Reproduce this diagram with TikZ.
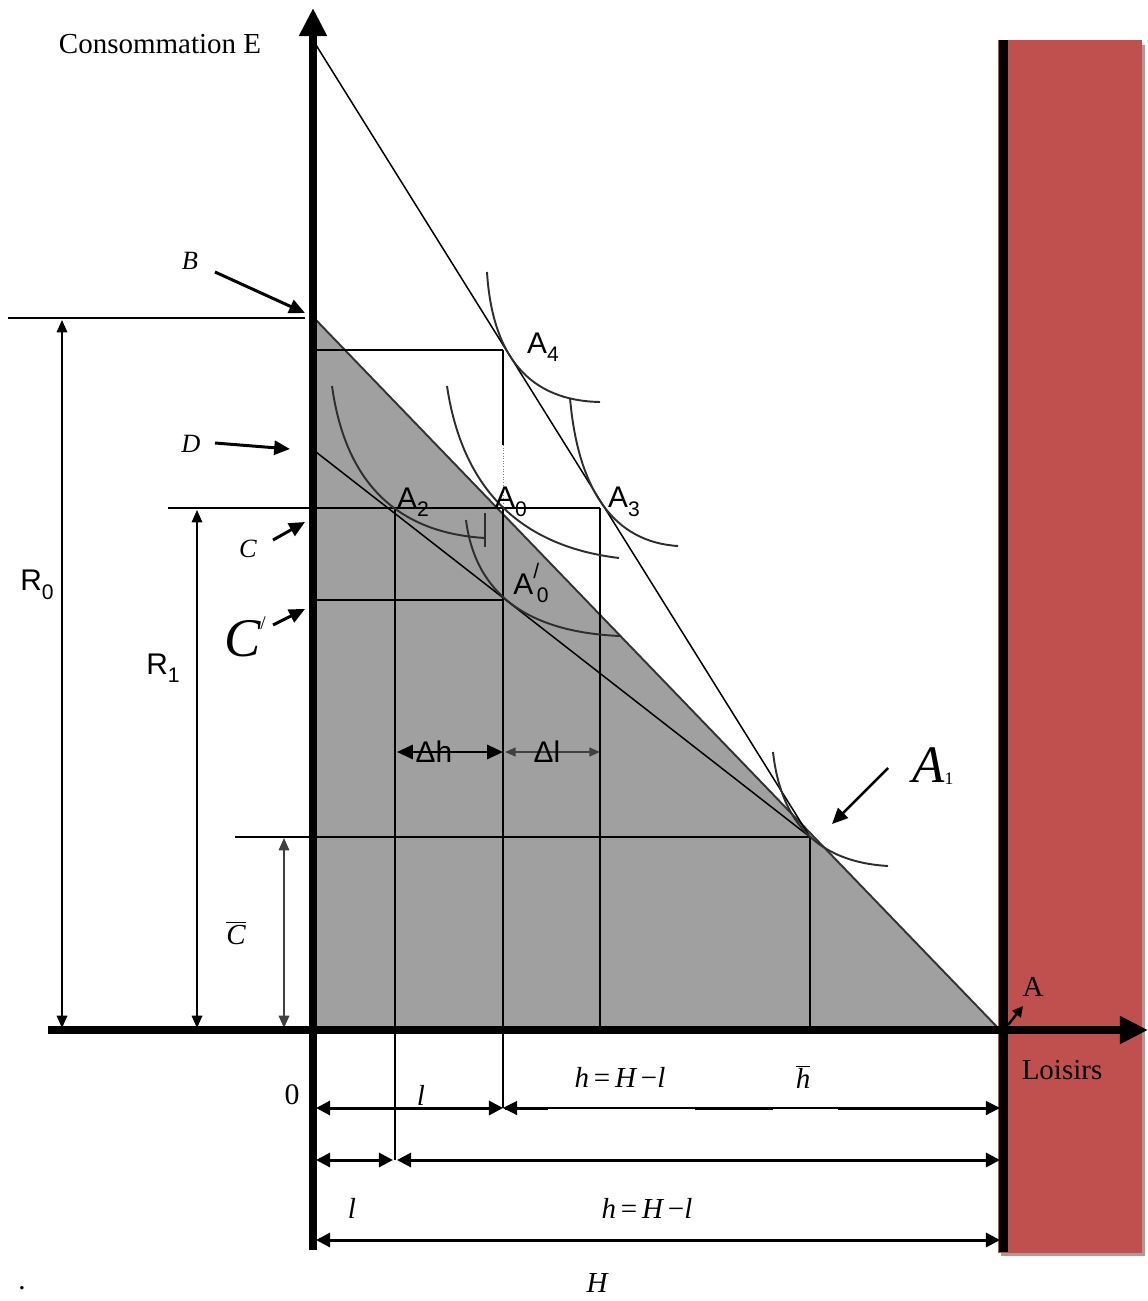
\documentclass[tikz,border=0pt]{standalone}
\usepackage{fontspec}
\setmainfont{Liberation Serif}
\newfontfamily\sansf{Liberation Sans}
\usetikzlibrary{arrows.meta}
\definecolor{redbar}{HTML}{C0504D}
\definecolor{grayfill}{HTML}{A0A0A0}
\definecolor{shadowc}{HTML}{B89696}
\newcommand\mysub[1]{\raisebox{-0.28em}{\fontsize{12}{13}\selectfont #1}}
\begin{document}
\begin{tikzpicture}[x=0.02cm,y=-0.02cm,
  thinl/.style={line width=0.85pt},
  icurve/.style={line width=1.1pt, draw=black!82},
  dimL/.style={line width=0.9pt,{Triangle[length=7pt,width=6pt]}-{Triangle[length=7pt,width=6pt]}},
  dimB/.style={line width=1.7pt,{Triangle[length=8pt,width=8pt]}-{Triangle[length=8pt,width=8pt]}},
  lblarrow/.style={line width=1.7pt,-{Triangle[length=9pt,width=8pt]}},
  serif/.style={font=\fontsize{16.5}{18}\selectfont, inner sep=0pt},
  ital/.style={font=\fontsize{16.5}{18}\selectfont\itshape, inner sep=0pt},
  sanslbl/.style={font=\sansf\fontsize{17}{19}\selectfont, inner sep=0pt},
]
\useasboundingbox (0,0) rectangle (1148,1301);
% key points
\coordinate (top) at (313,8);
\coordinate (axbot) at (313,1250);
\coordinate (hx0) at (48,1030);
\coordinate (hx1) at (1148,1030);
\coordinate (B) at (316,320);
\coordinate (Hend) at (1000,1030);
\coordinate (O) at (316,1030);
\coordinate (E) at (316,45);
\coordinate (D) at (316,452);
\coordinate (A1) at (810,837);
\coordinate (A4) at (503,350);
\coordinate (A2) at (395,508);
\coordinate (A0) at (503,508);
\coordinate (A3) at (600,508);
\coordinate (A0p) at (503,600);

% red bar with shadow
\fill[shadowc] (1001,45) rectangle (1145,1256);
\fill[redbar] (998,40) rectangle (1142,1253);

% gray triangle
\fill[grayfill] (B) -- (Hend) -- (O) -- cycle;
\draw[line width=1.1pt, draw=black!80] (B) -- (Hend);

% budget lines
\draw[thinl] (E) -- (A1);
\draw[thinl] (D) -- (A1);

% guide lines
\coordinate (r0l) at (8,318); \coordinate (r0r) at (305,318);
\draw[thinl] (r0l) -- (r0r);
\coordinate (h350) at (316,350);
\draw[thinl] (h350) -- (A4);
\coordinate (v445) at (503,445);
\draw[thinl] (A4) -- (v445);
\draw[line width=0.5pt, densely dotted, draw=black!50] (v445) -- (A0);
\coordinate (r1l) at (168,508);
\draw[thinl] (r1l) -- (A3);
\coordinate (h600) at (316,600);
\draw[thinl] (h600) -- (A0p);
\coordinate (cbl) at (235,837);
\draw[thinl] (cbl) -- (A1);
\coordinate (v395b) at (395,1160);
\coordinate (v503b) at (503,1108);
\coordinate (v600b) at (600,1030);
\coordinate (v810b) at (810,1030);
\draw[thinl] (A2) -- (v395b);
\draw[thinl] (A0) -- (v503b);
\draw[thinl] (A3) -- (v600b);
\draw[thinl] (A1) -- (v810b);

% indifference curves
\draw[icurve] (487,272) .. controls (492.3,357.3) and (530,400.7) .. (600,402);
\draw[icurve] (570,398) .. controls (578,490.7) and (614,542) .. (678,546);
\draw[icurve] (447,386) .. controls (462.3,488.7) and (519.7,546) .. (619,558);
\draw[icurve] (332,386) .. controls (345.3,482) and (396.3,532.7) .. (485,538);
\coordinate (tk1) at (485,513); \coordinate (tk2) at (485,547);
\draw[icurve] (tk1) -- (tk2);
\draw[icurve] (466,520) .. controls (475.3,593.3) and (526.7,632) .. (620,636);
\draw[icurve] (773,752) .. controls (781,824) and (819.3,862) .. (888,866);

% left dimension arrows
\coordinate (R0t) at (62,320); \coordinate (R0b) at (62,1028);
\draw[dimL] (R0t) -- (R0b);
\coordinate (R1t) at (197,510); \coordinate (R1b) at (197,1028);
\draw[dimL] (R1t) -- (R1b);
\coordinate (Cbt) at (284,838); \coordinate (Cbb) at (284,1028);
\draw[dimL, draw=black!75] (Cbt) -- (Cbb);

% delta arrows
\coordinate (dh1) at (397,752); \coordinate (dh2) at (503,752); \coordinate (dl2) at (600,752);
\draw[line width=1.5pt,{Triangle[length=9pt,width=8pt]}-{Triangle[length=9pt,width=8pt]}] (dh1) -- (dh2);
\draw[line width=0.9pt, draw=black!75,{Triangle[length=6pt,width=5pt]}-{Triangle[length=6pt,width=5pt]}] (505,752) -- (dl2);

% bottom dimension arrows
\coordinate (b1a) at (316,1108); \coordinate (b1c) at (1000,1108);
\draw[dimB] (b1a) -- (v503b);
\draw[line width=0.6pt,{Triangle[length=8pt,width=8pt]}-{Triangle[length=8pt,width=8pt]}] (v503b) -- (b1c);
\draw[line width=1.7pt] (505,1108) -- (548,1108);
\draw[line width=1.7pt] (695,1108) -- (773,1108);
\draw[line width=1.7pt] (838,1108) -- (990,1108);
\coordinate (b2a) at (316,1160); \coordinate (b2m) at (393,1160); \coordinate (b2n) at (397,1160); \coordinate (b2c) at (1000,1160);
\draw[dimB] (b2a) -- (b2m);
\draw[dimB] (b2n) -- (b2c);
\coordinate (b3a) at (316,1240); \coordinate (b3c) at (1000,1240);
\draw[dimB] (b3a) -- (b3c);

% axes
\draw[line width=4.2pt, -{Triangle[length=16pt,width=15pt]}] (axbot) -- (top);
\draw[line width=4.2pt, -{Triangle[length=16pt,width=15pt]}] (hx0) -- (hx1);
\coordinate (rb1) at (1003.5,40); \coordinate (rb2) at (1003.5,1252);
\draw[line width=5pt] (rb1) -- (rb2);

% labels
\node[serif] (cons) at (160,44) {Consommation E};
\node[ital, font=\fontsize{15}{17}\selectfont\itshape] (Blab) at (190,261) {B};
\node[ital, font=\fontsize{15}{17}\selectfont\itshape] (Dlab) at (191,444) {D};
\node[ital, font=\fontsize{15}{17}\selectfont\itshape] (Clab) at (248,549) {C};
\node[inner sep=0pt] (Cplab) at (245,637) {\fontsize{31}{33}\selectfont\itshape C\raisebox{0.5em}{\fontsize{11}{12}\selectfont\upshape /}};
\coordinate (Ba1) at (215,272); \coordinate (Ba2) at (305,313);
\draw[lblarrow] (Ba1) -- (Ba2);
\coordinate (Da1) at (215,443); \coordinate (Da2) at (290,449);
\draw[lblarrow] (Da1) -- (Da2);
\coordinate (Ca1) at (273,540); \coordinate (Ca2) at (305,522);
\draw[lblarrow] (Ca1) -- (Ca2);
\coordinate (Cpa1) at (273,625); \coordinate (Cpa2) at (305,609);
\draw[lblarrow] (Cpa1) -- (Cpa2);

\node[sanslbl] (R0lab) at (37,585) {R\mysub{0}};
\node[sanslbl] (R1lab) at (163,668) {R\mysub{1}};
\node[sanslbl] (A4lab) at (543,347) {A\mysub{4}};
\node[sanslbl] (A2lab) at (413,502) {A\mysub{2}};
\node[sanslbl] (A0lab) at (511,502) {A\mysub{0}};
\node[sanslbl] (A3lab) at (624,502) {A\mysub{3}};
\node[sanslbl] (A0plab) at (531,583) {A\rlap{\raisebox{0.55em}{\fontsize{12}{13}\selectfont /}}\mysub{\,0}};
\node[sanslbl] (dhlab) at (434,752) {Δh};
\node[sanslbl] (dllab) at (547,752) {Δl};

\node[inner sep=0pt] (A1lab) at (933,766) {\fontsize{30}{32}\selectfont\itshape A\raisebox{-0.05em}{\fontsize{10}{11}\selectfont\upshape 1}};
\coordinate (A1a1) at (888,768); \coordinate (A1a2) at (832,824);
\draw[line width=1.4pt,-{Triangle[length=9pt,width=8pt]}] (A1a1) -- (A1a2);

\node[ital] (Cbar) at (236,933) {$\overline{\hbox{\itshape C}}$};
\node[serif] (Alab) at (1033,987) {A};
\coordinate (Aa1) at (1008,1025); \coordinate (Aa2) at (1023,1006);
\draw[line width=1.4pt,-{Triangle[length=6pt,width=6pt]}] (Aa1) -- (Aa2);
\node[serif] (Loisirs) at (1062,1070) {Loisirs};

\node[serif, font=\fontsize{17}{19}\selectfont] (zero) at (292,1095) {0};
\node[ital] (l1) at (421,1095) {l};
\node[ital] (hH1) at (620,1077) {h\,\upshape=\,\itshape H\,\upshape−\itshape l};
\node[ital] (hbar) at (803,1077) {$\overline{\hbox{\itshape h}}$};
\node[ital] (l2) at (352,1208) {l};
\node[ital] (hH2) at (647,1208) {h\,\upshape=\,\itshape H\,\upshape−\itshape l};
\node[ital] (Hlab) at (597,1283) {H};
\node[serif] (dot) at (22,1288) {.};
\end{tikzpicture}
\end{document}
